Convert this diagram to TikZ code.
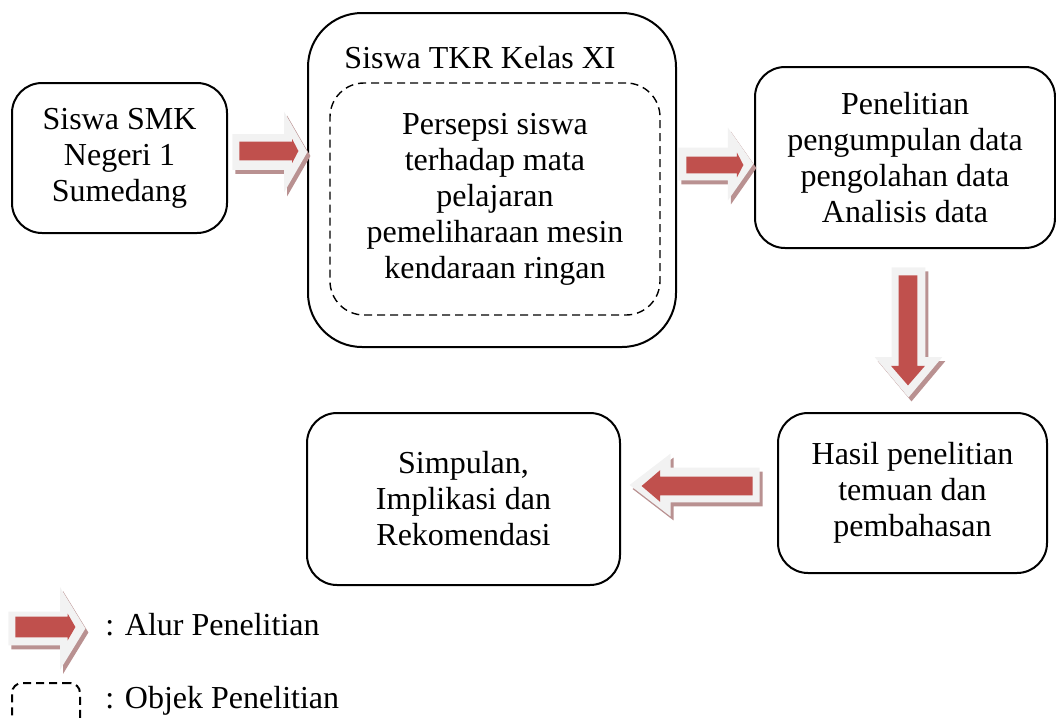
\documentclass[tikz,border=0pt]{standalone}
\usepackage{fontspec}
\setmainfont{Liberation Serif}
\usetikzlibrary{shapes.arrows,shadows}
\definecolor{arrowred}{RGB}{192,80,77}
\definecolor{arrowgrey}{RGB}{242,242,242}
\definecolor{arrowshade}{RGB}{185,145,145}
\begin{document}
\begin{tikzpicture}[x=0.5pt, y=-0.5pt,
    box/.style={draw, line width=1pt, rounded corners=15pt, align=center, font=\fontsize{16}{18}\selectfont},
    objbox/.style={draw, dash pattern=on 4pt off 2.5pt, line width=0.7pt, rounded corners=17pt},
    arrowout/.style={single arrow, fill=arrowgrey, inner xsep=0pt, anchor=tail,
        drop shadow={shadow xshift=1.5pt, shadow yshift=-2pt, fill=arrowshade, opacity=1}},
    arrowin/.style={single arrow, fill=arrowred, inner xsep=0pt, anchor=tail},
    lbl/.style={font=\fontsize{16}{18}\selectfont, inner sep=0pt}]
    \useasboundingbox (0,0) rectangle (1056,718);

    \node[box, minimum width=107.5pt, minimum height=75pt](smk) at (119.5,158) {Siswa SMK\\Negeri 1\\Sumedang};
    \node[box, rounded corners=27pt, minimum width=184pt, minimum height=167pt](tkr) at (492,180) {};
    \node[lbl, anchor=base](tkrtitle) at (480,68) {Siswa TKR Kelas XI};
    \node[box, objbox, minimum width=165pt, minimum height=116pt](persepsi) at (495,199) {Persepsi siswa\\terhadap mata\\pelajaran\\pemeliharaan mesin\\kendaraan ringan};
    \node[box, minimum width=150pt, minimum height=90.5pt](olah) at (905,157.5) {Penelitian\\pengumpulan data\\pengolahan data\\Analisis data};
    \node[box, minimum width=134.5pt, minimum height=80pt](hasil) at (912.5,493) {Hasil penelitian\\temuan dan\\pembahasan};
    \node[box, minimum width=156.5pt, minimum height=86pt](simpulan) at (463.5,499) {Simpulan,\\Implikasi dan\\Rekomendasi};

    \node[arrowout, minimum height=37.5pt, inner ysep=8.75pt, single arrow head extend=11.25pt, single arrow tip angle=120](alur1) at (232,152) {};
    \node[arrowin, minimum height=29.5pt, inner ysep=4.5pt, single arrow head extend=1.25pt, single arrow tip angle=125](alur1in) at (239,151) {};
    \node[arrowout, minimum height=37.5pt, inner ysep=8pt, single arrow head extend=10pt, single arrow tip angle=110](alur2) at (678,164) {};
    \node[arrowin, minimum height=28.5pt, inner ysep=4pt, single arrow head extend=2pt, single arrow tip angle=125](alur2in) at (686,165) {};
    \node[arrowout, shape border rotate=270, minimum height=65pt, inner ysep=0pt, inner xsep=8.25pt, single arrow head extend=8.5pt, single arrow tip angle=80](alur3) at (908.5,267) {};
    \node[arrowin, shape border rotate=270, minimum height=55pt, inner ysep=0pt, inner xsep=4.5pt, single arrow head extend=3.75pt, single arrow tip angle=82](alur3in) at (908,275) {};
    \node[arrowout, shape border rotate=180, minimum height=65pt, inner ysep=8.5pt, single arrow head extend=7pt, single arrow tip angle=75](alur4) at (760,485) {};
    \node[arrowin, shape border rotate=180, minimum height=55.5pt, inner ysep=4.5pt, single arrow head extend=3.25pt, single arrow tip angle=81](alur4in) at (753,486) {};

    \node[arrowout, minimum height=38.5pt, inner ysep=8.25pt, single arrow head extend=12.25pt, single arrow tip angle=117](legarrow) at (8,628.5) {};
    \node[arrowin, minimum height=30pt, inner ysep=5pt, single arrow head extend=1.5pt, single arrow tip angle=120](legarrowin) at (15,627) {};
    \node[lbl, anchor=base west](legalur) at (105,635) {: Alur Penelitian};
    \node[objbox, line width=1pt, rounded corners=5pt, minimum width=34pt, minimum height=26pt](legobj) at (46,709) {};
    \node[lbl, anchor=base west](legobjek) at (105,708) {: Objek Penelitian};
\end{tikzpicture}
\end{document}
